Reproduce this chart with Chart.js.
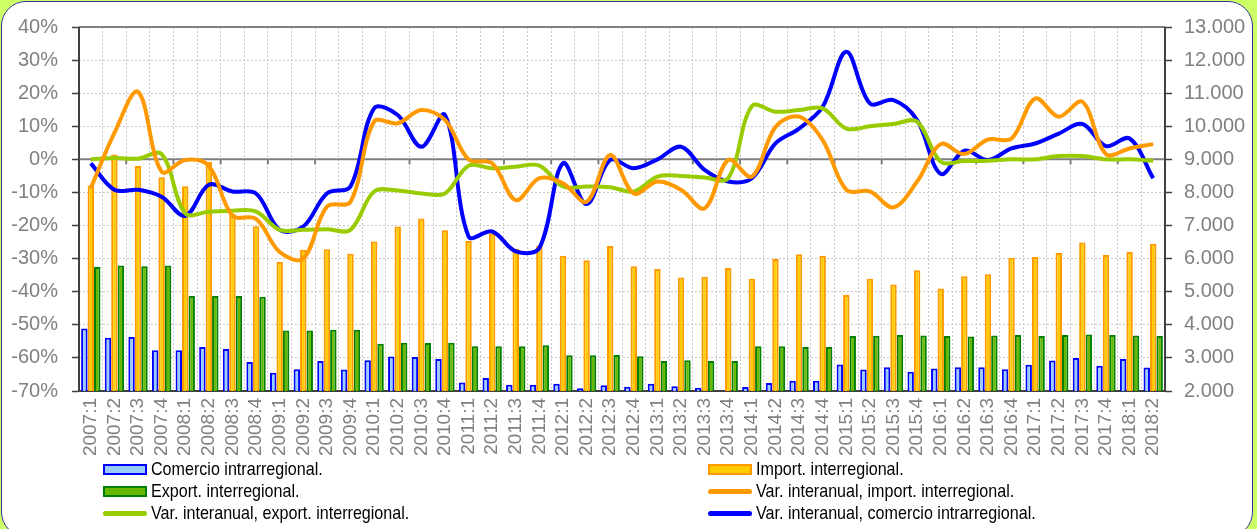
<!DOCTYPE html>
<html>
<head>
<meta charset="utf-8">
<script src="https://cdn.jsdelivr.net/npm/chart.js@4.4.1/dist/chart.umd.min.js"></script>
<style>
  html, body { margin: 0; padding: 0; }
  body { width: 1257px; height: 529px; background: #ccff66; position: relative; overflow: hidden; }
  #frame { position: absolute; left: 1px; top: 1px; width: 1250px; height: 534px; background: #fff; border: 1px solid #333399; border-radius: 25px; }
  #c { position: absolute; left: 0; top: 0; }
  .item { position: absolute; height: 22px; display: flex; align-items: center; white-space: nowrap;
          font-family: "Liberation Sans", Arial, sans-serif; font-size: 18.5px; color: #000; }
  .item .tx { display: inline-block; transform: scaleX(0.87); transform-origin: left center; }
  .sw { width: 44px; margin-right: 4px; box-sizing: border-box; }
</style>
</head>
<body>
<div id="frame"></div>
<canvas id="c" width="1257" height="529"></canvas>
<div id="legend"></div>
<script>
// quarters
var periods = ["2007:1","2007:2","2007:3","2007:4","2008:1","2008:2","2008:3","2008:4",
  "2009:1","2009:2","2009:3","2009:4","2010:1","2010:2","2010:3","2010:4",
  "2011:1","2011:2","2011:3","2011:4","2012:1","2012:2","2012:3","2012:4",
  "2013:1","2013:2","2013:3","2013:4","2014:1","2014:2","2014:3","2014:4",
  "2015:1","2015:2","2015:3","2015:4","2016:1","2016:2","2016:3","2016:4",
  "2017:1","2017:2","2017:3","2017:4","2018:1","2018:2"];

// bars, right axis
var comercioIntra = [3890,3610,3630,3230,3230,3330,3270,2880,2550,2660,2910,2650,2930,3040,3030,2970,
  2260,2390,2190,2190,2220,2080,2170,2130,2220,2140,2100,2010,2120,2240,2310,2310,
  2800,2650,2720,2580,2680,2720,2720,2660,2790,2920,3000,2760,2970,2710];
var importInter = [8210,9150,8800,8460,8190,8920,7360,6980,5900,6270,6280,6150,6520,6970,7210,6860,
  6530,6760,6300,6400,6090,5950,6380,5770,5690,5430,5450,5720,5390,5990,6130,6090,
  4900,5390,5220,5650,5100,5470,5530,6030,6050,6170,6490,6110,6200,6450];
var exportInter = [5750,5790,5770,5790,4870,4870,4870,4850,3830,3830,3850,3850,3430,3460,3450,3460,
  3350,3350,3350,3380,3080,3080,3090,3050,2910,2930,2910,2910,3350,3350,3330,3330,
  3660,3670,3690,3680,3660,3650,3680,3690,3660,3690,3710,3690,3680,3660];

// lines, left axis (%)
var varImport = [-8.7,8,20.4,-3.7,-0.2,-2,-17,-18,-28,-30,-14.3,-12.8,11.4,10.9,14.9,11.9,
  0,-1.2,-12.3,-5.7,-7.2,-12.8,1.3,-10.3,-6.7,-9.2,-14.8,-0.2,-5.2,9.8,12.9,5.8,
  -9.2,-9.7,-14.5,-6.7,4.6,1.6,6,6.3,18.4,12.9,17.4,1.6,3.3,4.6];
var varExport = [0,0.4,0.2,1.6,-16.3,-15.8,-15.5,-15.8,-21.3,-21.3,-21.1,-21.3,-9.7,-9.4,-10.3,-10.3,
  -1.9,-2.7,-2.2,-1.9,-8.2,-8.2,-8.4,-9.7,-5.2,-5,-5.5,-5.7,16.1,14.4,14.9,15.4,
  9.3,10,10.7,11.4,-0.7,-0.5,-0.4,0,0,1,1,0,0,-0.4];
var varComercio = [-1.2,-9.2,-9.2,-11.3,-17.1,-7.7,-9.7,-10.3,-21.3,-20.3,-10.3,-8.2,15.4,13.4,3.8,13.4,
  -23.3,-21.8,-27.8,-26.8,-1.2,-13.5,-0.2,-2.7,0,3.8,-3.2,-6.7,-5.7,4.8,9.3,15.9,
  32.5,16.9,17.9,11.9,-4.4,2.6,-0.2,3.3,4.8,7.8,10.7,4,6.3,-5.7];

var gray = '#808080';

// zero line (with its small ticks) and plot frame
var framePlugin = {
    id: 'frame',
    beforeDatasetsDraw: function(chart) {
        var ctx = chart.ctx, a = chart.chartArea, xs = chart.scales.x;
        var y0 = chart.scales.y.getPixelForValue(0);
        ctx.save();
        ctx.lineWidth = 2;
        ctx.strokeStyle = gray;
        ctx.beginPath();
        ctx.moveTo(a.left, y0); ctx.lineTo(a.right, y0);
        ctx.moveTo(a.left, a.top); ctx.lineTo(a.right, a.top);
        for (var i = 2; i < periods.length; i += 2) {
            var bx = (xs.getPixelForTick(i - 1) + xs.getPixelForTick(i)) / 2;
            ctx.moveTo(bx, y0); ctx.lineTo(bx, y0 + 5);
        }
        ctx.stroke();
        ctx.strokeStyle = '#404040';
        ctx.beginPath();
        ctx.moveTo(a.left, a.top); ctx.lineTo(a.left, a.bottom);
        ctx.lineTo(a.right, a.bottom); ctx.lineTo(a.right, a.top);
        ctx.stroke();
        ctx.restore();
    }
};

var ctx = document.getElementById('c').getContext('2d');

var chart = new Chart(ctx, {
    type: 'bar',
    data: {
        labels: periods,
        datasets: [{
            label: 'Comercio intrarregional.',
            data: comercioIntra,
            yAxisID: 'y1',
            backgroundColor: '#99ccff',
            borderColor: '#0000ff',
            borderWidth: 2,
            order: 1
        }, {
            label: 'Import. interregional.',
            data: importInter,
            yAxisID: 'y1',
            backgroundColor: '#ffcc00',
            borderColor: '#ff9900',
            borderWidth: 2,
            order: 1
        }, {
            label: 'Export. interregional.',
            data: exportInter,
            yAxisID: 'y1',
            backgroundColor: '#66b800',
            borderColor: '#008000',
            borderWidth: 2,
            order: 1
        }, {
            type: 'line',
            label: 'Var. interanual, import. interregional.',
            data: varImport,
            yAxisID: 'y',
            borderColor: '#ff9900',
            backgroundColor: '#ff9900',
            borderWidth: 4,
            pointRadius: 0,
            tension: 0.35,
            order: 0
        }, {
            type: 'line',
            label: 'Var. interanual, export. interregional.',
            data: varExport,
            yAxisID: 'y',
            borderColor: '#99cc00',
            backgroundColor: '#99cc00',
            borderWidth: 4,
            pointRadius: 0,
            tension: 0.35,
            order: 0
        }, {
            type: 'line',
            label: 'Var. interanual, comercio intrarregional.',
            data: varComercio,
            yAxisID: 'y',
            borderColor: '#0000ff',
            backgroundColor: '#0000ff',
            borderWidth: 4,
            pointRadius: 0,
            tension: 0.35,
            order: 0
        }]
    },
    options: {
        responsive: false,
        animation: false,
        devicePixelRatio: 1,
        layout: { padding: { top: 27, left: 0, right: 0, bottom: 0 } },
        datasets: { bar: { categoryPercentage: 0.82, barPercentage: 1.0 } },
        plugins: { legend: { display: false }, tooltip: { enabled: false } },
        scales: {
            x: {
                offset: true,
                grid: { offset: true, color: '#c8c8c8', drawTicks: false },
                border: { display: false, dash: [2, 2] },
                ticks: {
                    autoSkip: false, minRotation: 90, maxRotation: 90, padding: 7,
                    color: gray, font: { family: '"Liberation Sans", Arial', size: 19 }
                },
                afterFit: function(s) { s.height = 138; }
            },
            y: {
                position: 'left',
                min: -70, max: 40,
                ticks: {
                    stepSize: 10, padding: 14, color: gray,
                    font: { family: '"Liberation Sans", Arial', size: 20 },
                    callback: function(v) { return v + '%'; }
                },
                grid: {
                    color: function(c) { return c.tick && c.tick.value === 0 ? 'rgba(0,0,0,0)' : '#c8c8c8'; },
                    tickColor: '#404040', tickLength: 7, tickWidth: 1.5, tickBorderDash: []
                },
                border: { display: false, dash: [2, 2] },
                afterFit: function(s) { s.width = 79; }
            },
            y1: {
                position: 'right',
                min: 2000, max: 13000,
                ticks: {
                    stepSize: 1000, padding: 12, color: gray,
                    font: { family: '"Liberation Sans", Arial', size: 20 },
                    callback: function(v) { return v.toLocaleString('de-DE', { minimumFractionDigits: 3 }).replace(',000', ''); }
                },
                grid: { drawOnChartArea: false, tickColor: '#404040', tickLength: 7, tickWidth: 1.5 },
                border: { display: false },
                afterFit: function(s) { s.width = 92; }
            }
        }
    },
    plugins: [framePlugin]
});

// two-column legend, row by row like the original
var legendEl = document.getElementById('legend');
chart.data.datasets.forEach(function(ds, i) {
    var col = i % 2, row = Math.floor(i / 2);
    var item = document.createElement('div');
    item.className = 'item';
    item.style.left = (col ? 708 : 103) + 'px';
    item.style.top = (458 + row * 22) + 'px';
    var sw = document.createElement('span');
    sw.className = 'sw';
    if (ds.type === 'line') {
        sw.style.height = '5px';
        sw.style.borderRadius = '3px';
        sw.style.background = ds.borderColor;
    } else {
        sw.style.height = '11px';
        sw.style.background = ds.backgroundColor;
        sw.style.border = '2px solid ' + ds.borderColor;
    }
    var txt = document.createElement('span');
    txt.className = 'tx';
    txt.textContent = ds.label;
    item.appendChild(sw);
    item.appendChild(txt);
    legendEl.appendChild(item);
});
</script>
</body>
</html>
